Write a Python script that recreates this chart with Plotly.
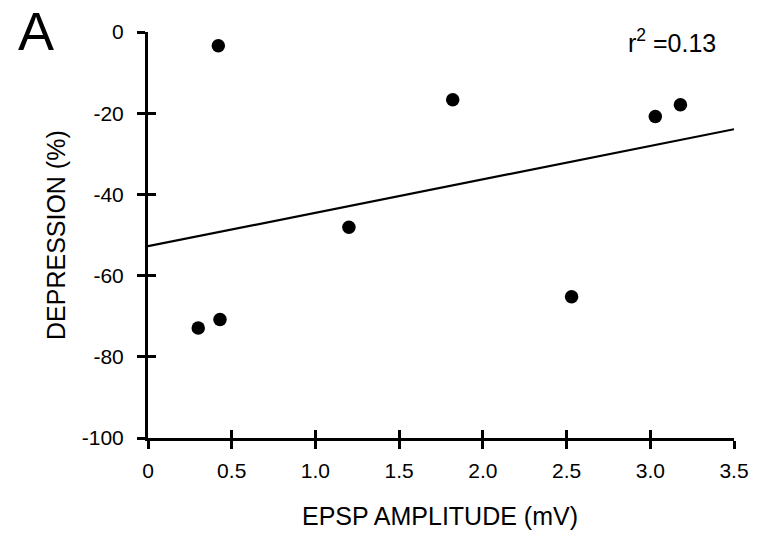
import numpy as np
import plotly.graph_objects as go

# Data
epsp_amplitude_mv = [0.30, 0.43, 0.42, 1.20, 1.82, 2.53, 3.03, 3.18]
depression_pct = [-72.9, -70.8, -3.4, -48.1, -16.7, -65.2, -20.8, -17.9]
x_ticks = [0, 0.5, 1.0, 1.5, 2.0, 2.5, 3.0, 3.5]
x_tick_labels = ["0", "0.5", "1.0", "1.5", "2.0", "2.5", "3.0", "3.5"]
y_ticks = [0, -20, -40, -60, -80, -100]
y_tick_labels = ["0", "-20", "-40", "-60", "-80", "-100"]
fit_x = [0, 3.5]

slope, intercept = np.polyfit(epsp_amplitude_mv, depression_pct, 1)
fit_y = [slope * v + intercept for v in fit_x]

FONT = "Liberation Sans"

fig = go.Figure()
fig.add_trace(go.Scatter(x=fit_x, y=fit_y, mode="lines",
                         line=dict(color="black", width=2.2), showlegend=False,
                         cliponaxis=False))
fig.add_trace(go.Scatter(x=epsp_amplitude_mv, y=depression_pct, mode="markers",
                         marker=dict(color="black", size=13.5), showlegend=False,
                         cliponaxis=False))
# invisible traces on overlay axes so the inside half of each tick is drawn
fig.add_trace(go.Scatter(x=fit_x, y=[-100, 0], xaxis="x", yaxis="y2",
                         mode="markers", marker=dict(opacity=0), showlegend=False,
                         hoverinfo="skip"))
fig.add_trace(go.Scatter(x=fit_x, y=[-100, 0], xaxis="x2", yaxis="y",
                         mode="markers", marker=dict(opacity=0), showlegend=False,
                         hoverinfo="skip"))

axis_common = dict(showgrid=False, zeroline=False, showline=True,
                   linecolor="black", linewidth=3, tickcolor="black",
                   tickwidth=3, ticklen=8)

# body of the page has an 8px default margin: compensate
fig.update_layout(
    width=759, height=529,
    margin=dict(l=140, r=33, t=16, b=99),
    plot_bgcolor="white", paper_bgcolor="white",
    font=dict(family=FONT, color="black"),
    xaxis=dict(range=[0, 3.5], tickmode="array", tickvals=x_ticks,
               ticktext=x_tick_labels, ticks="outside", ticklabelstandoff=4,
               tickfont=dict(size=21, family=FONT), **axis_common),
    yaxis=dict(range=[-100, 0], tickmode="array", tickvals=y_ticks,
               ticktext=y_tick_labels, ticks="outside", ticklabelstandoff=9,
               tickfont=dict(size=21, family=FONT), **axis_common),
    xaxis2=dict(range=[0, 3.5], overlaying="x", side="bottom", tickmode="array",
                tickvals=x_ticks, ticks="inside", showticklabels=False,
                anchor="y", **axis_common),
    yaxis2=dict(range=[-100, 0], overlaying="y", side="left", tickmode="array",
                tickvals=y_ticks, ticks="inside", showticklabels=False,
                anchor="x", **axis_common),
    annotations=[
        dict(text="A", xref="paper", yref="paper", x=(36 - 148) / 586,
             y=1 + (24 - 23) / 414, xanchor="center", yanchor="middle",
             showarrow=False, font=dict(size=54, family=FONT)),
        dict(text="r<sup>2</sup> =0.13", xref="paper", yref="paper",
             x=(672 - 148) / 586, y=1 + (24 - 33) / 414, xanchor="center",
             yanchor="middle", showarrow=False, font=dict(size=25, family=FONT)),
        dict(text="DEPRESSION (%)", xref="paper", yref="paper",
             x=(56 - 148) / 586, y=1 - (231 - 24) / 414, xanchor="center",
             yanchor="middle", textangle=-90, showarrow=False,
             font=dict(size=25, family=FONT)),
        dict(text="EPSP AMPLITUDE (mV)", xref="paper", yref="paper",
             x=(440 - 148) / 586, y=-(518 - 438) / 414, xanchor="center",
             yanchor="middle", showarrow=False, font=dict(size=25, family=FONT)),
    ],
)

fig.write_html("out.html")
